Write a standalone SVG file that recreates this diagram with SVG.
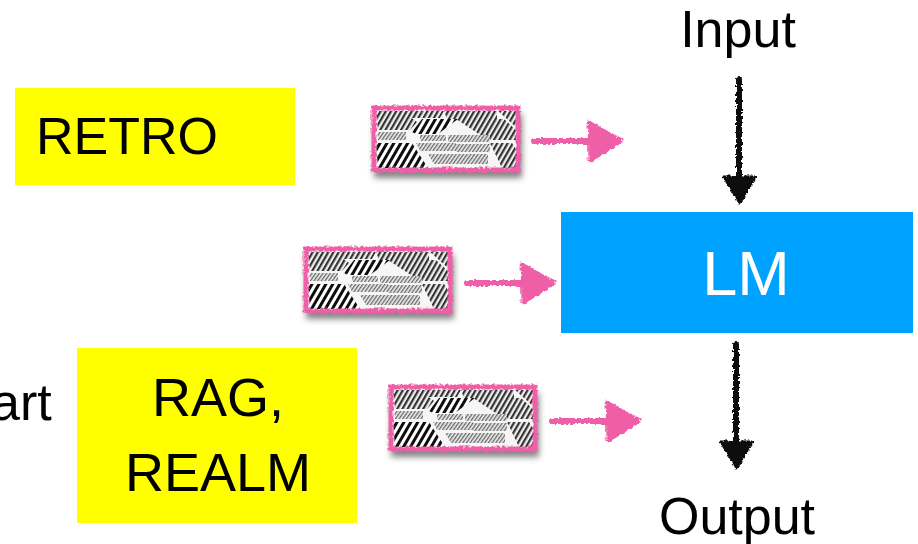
<svg xmlns="http://www.w3.org/2000/svg" width="918" height="544" viewBox="0 0 918 544">
<style>
text{font-family:"Liberation Sans",Arial,sans-serif;font-size:52px;fill:#000}
.l{font-size:54px}
.c{text-anchor:middle}
.pk{stroke:#ee5fa8;fill:none;stroke-linecap:round}
.pkf{fill:#ee5fa8;stroke:#ee5fa8;stroke-width:3;stroke-linejoin:round}
.bk{stroke:#0a0a0a;fill:none;stroke-linecap:round}
.bkf{fill:#0a0a0a;stroke:#0a0a0a;stroke-width:3;stroke-linejoin:round}
</style>
<defs>
<filter id="rough" x="-10%" y="-10%" width="120%" height="120%">
<feTurbulence type="fractalNoise" baseFrequency="0.35" numOctaves="2" seed="4"/>
<feDisplacementMap in="SourceGraphic" scale="5" xChannelSelector="R" yChannelSelector="G"/>
</filter>
<filter id="blur" x="-15%" y="-25%" width="130%" height="150%"><feGaussianBlur stdDeviation="3"/></filter>
<filter id="soft" x="-5%" y="-5%" width="110%" height="110%"><feGaussianBlur stdDeviation="0.5"/></filter>
<pattern id="hb" width="4.5" height="4.5" patternUnits="userSpaceOnUse" patternTransform="rotate(30)"><rect width="4.5" height="4.5" fill="#eee"/><rect width="2.2" height="4.5" fill="#333"/></pattern>
<pattern id="hB" width="6" height="6" patternUnits="userSpaceOnUse" patternTransform="rotate(30)"><rect width="6" height="6" fill="#fff"/><rect width="3" height="6" fill="#111"/></pattern>
<pattern id="hm" width="3" height="3" patternUnits="userSpaceOnUse" patternTransform="rotate(35)"><rect width="3" height="3" fill="#eee"/><rect width="1.3" height="3" fill="#666"/></pattern>
<g id="thumb">
<rect x="2" y="8" width="148" height="64" fill="#333" opacity=".6" filter="url(#blur)"/>
<g filter="url(#soft)">
<rect x="1" y="1" width="146" height="64" fill="#f6f6f6"/>
<path d="M4 5H30L45 16 38 24H6Z" fill="url(#hb)"/>
<path d="M30 5H72L68 12H34ZM72 5H125V13H75Z" fill="url(#hb)"/>
<path d="M84 13H132L144 24V34H116Z" fill="url(#hb)"/>
<path d="M40 26 50 13H86L66 28H44Z" fill="url(#hB)"/>
<path d="M6 26H34V34H6ZM76 29H118V36H76ZM48 29H74V35H48Z" fill="url(#hm)"/>
<path d="M126 5H145V22Z" fill="url(#hb)"/>
<path d="M4 37H40L56 62H6Z" fill="url(#hB)"/>
<path d="M44 37H84V45H48ZM84 38H118V46H84ZM56 48H116V58H62Z" fill="url(#hm)"/>
<path d="M118 37H140L146 46V62H130Z" fill="url(#hb)"/>
</g>
<rect x="2" y="2" width="144" height="62" fill="none" stroke="#ee5fa8" stroke-width="5" filter="url(#rough)"/>
</g>
<g id="parrow" filter="url(#rough)">
<path class="pk" stroke-width="6" d="M2 35H60"/>
<path class="pkf" d="M57 16 90 35 58 55Z"/>
</g>
<g id="barrow" filter="url(#rough)">
<path class="bk" stroke-width="6" d="M17 2V100"/>
<path class="bkf" d="M2 100H33L18 126Z"/>
</g>
</defs>
<g id="retro"><rect x="15" y="88" width="280" height="97" fill="#ffff00"/><text x="36" y="154">RETRO</text></g>
<g id="rag"><rect x="77" y="348" width="280" height="175" fill="#ffff00"/><text class="c l" x="218" y="416">RAG,</text><text class="c l" x="218" y="491">REALM</text></g>
<g id="lm"><rect x="561" y="212" width="352" height="121" fill="#00a2ff"/><text class="c" x="746" y="295" style="fill:#fff;font-size:63px">LM</text></g>
<g id="input"><text class="c" x="738" y="47">Input</text></g>
<g id="output"><text class="c" x="737" y="534">Output</text></g>
<g id="start"><text x="-9" y="420">art</text></g>
<g id="doc1"><use href="#thumb" x="372" y="106"/></g>
<g id="doc2"><use href="#thumb" x="304" y="247"/></g>
<g id="doc3"><use href="#thumb" x="389" y="385"/></g>
<g id="connectors">
<use href="#parrow" x="532" y="106"/>
<use href="#parrow" x="465" y="248"/>
<use href="#parrow" x="550" y="386"/>
<use href="#barrow" x="722" y="77"/>
<use href="#barrow" x="719" y="342"/>
</g>
</svg>
